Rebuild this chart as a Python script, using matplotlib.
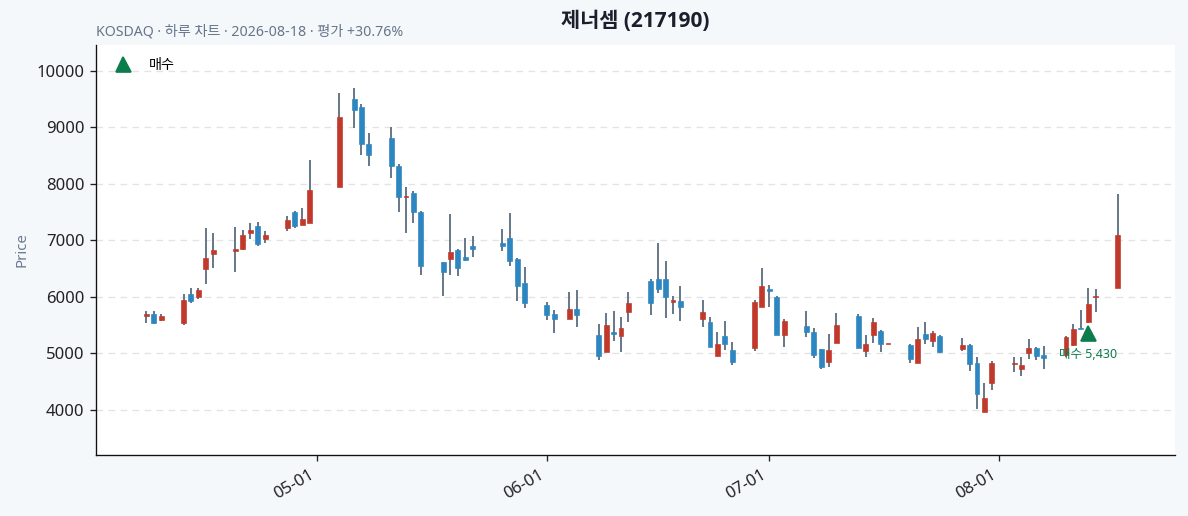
import matplotlib
matplotlib.use('Agg')
import matplotlib.pyplot as plt
import matplotlib.dates as mdates
import pandas as pd
import numpy as np

plt.rcParams['font.family'] = ['Noto Sans', 'Noto Sans CJK KR', 'DejaVu Sans']

# ---- data ----
dates = ['2026-04-08', '2026-04-09', '2026-04-10', '2026-04-13', '2026-04-14', '2026-04-15',
         '2026-04-16', '2026-04-17', '2026-04-20', '2026-04-21', '2026-04-22', '2026-04-23',
         '2026-04-24', '2026-04-27', '2026-04-28', '2026-04-29', '2026-04-30', '2026-05-04',
         '2026-05-06', '2026-05-07', '2026-05-08', '2026-05-11', '2026-05-12', '2026-05-13',
         '2026-05-14', '2026-05-15', '2026-05-18', '2026-05-19', '2026-05-20', '2026-05-21',
         '2026-05-22', '2026-05-26', '2026-05-27', '2026-05-28', '2026-05-29', '2026-06-01',
         '2026-06-02', '2026-06-04', '2026-06-05', '2026-06-08', '2026-06-09', '2026-06-10',
         '2026-06-11', '2026-06-12', '2026-06-15', '2026-06-16', '2026-06-17', '2026-06-18',
         '2026-06-19', '2026-06-22', '2026-06-23', '2026-06-24', '2026-06-25', '2026-06-26',
         '2026-06-29', '2026-06-30', '2026-07-01', '2026-07-02', '2026-07-03', '2026-07-06',
         '2026-07-07', '2026-07-08', '2026-07-09', '2026-07-10', '2026-07-13', '2026-07-14',
         '2026-07-15', '2026-07-16', '2026-07-17', '2026-07-20', '2026-07-21', '2026-07-22',
         '2026-07-23', '2026-07-24', '2026-07-27', '2026-07-28', '2026-07-29', '2026-07-30',
         '2026-07-31', '2026-08-03', '2026-08-04', '2026-08-05', '2026-08-06', '2026-08-07',
         '2026-08-10', '2026-08-11', '2026-08-12', '2026-08-13', '2026-08-14', '2026-08-17']

opens = [5658, 5701, 5587, 5534, 6044, 5996, 6495, 6762, 6815, 6850, 7135, 7254,
         7028, 7224, 7498, 7278, 7302, 7954, 9509, 9367, 8708, 8815, 8322, 7760,
         7842, 7504, 6609, 6673, 6822, 6703, 6904, 6952, 7041, 6667, 6240, 5850,
         5696, 5612, 5784, 5319, 5028, 5372, 5311, 5736, 6280, 6310, 6310, 5913,
         5926, 5612, 5549, 4958, 5301, 5058, 5099, 5814, 6138, 5996, 5319, 5483,
         5377, 5076, 4851, 5188, 5661, 5046, 5330, 5395, 5160, 5142, 4823, 5342,
         5223, 5306, 5076, 5142, 4823, 3967, 4480, 4805, 4729, 5000, 5088, 4970,
         4970, 5147, 5450, 5549, 5990, 6150]

highs = [5747, 5747, 5701, 6057, 6164, 6164, 7213, 7125, 7231, 7183, 7302, 7320,
         7165, 7432, 7521, 7569, 8416, 9616, 9705, 9420, 8904, 9004, 8352, 7954,
         7877, 7521, 6619, 7463, 6840, 7036, 7077, 7196, 7480, 6680, 6530, 5903,
         5761, 6085, 6115, 5513, 5708, 5749, 5637, 6085, 6310, 6947, 6628, 6014,
         6186, 5938, 5637, 5372, 5566, 5195, 5943, 6510, 6209, 6014, 5602, 5743,
         5442, 5082, 5336, 5708, 5696, 5319, 5620, 5412, 5168, 5165, 5460, 5549,
         5390, 5324, 5265, 5159, 4929, 4469, 4864, 4929, 4929, 5248, 5118, 5124,
         5300, 5513, 5766, 6150, 6133, 7814]

lows = [5541, 5511, 5569, 5505, 5897, 5961, 6235, 6520, 6448, 6822, 7018, 6899,
        6947, 7165, 7213, 7272, 7302, 7954, 8993, 8512, 8322, 8103, 7498, 7125,
        7302, 6395, 6009, 6395, 6370, 6644, 6703, 6804, 6555, 5925, 5808, 5589,
        5354, 5602, 5460, 4881, 5028, 5218, 5028, 5549, 5683, 6062, 5620, 5690,
        5566, 5460, 5106, 4958, 5058, 4788, 5046, 5814, 5814, 5319, 5106, 5283,
        4912, 4717, 4763, 5188, 5099, 4940, 5177, 5028, 5158, 4823, 4823, 5159,
        5106, 5000, 5046, 4693, 4020, 3967, 4350, 4668, 4593, 4894, 4882, 4722,
        4940, 5134, 5425, 5531, 5737, 6150]

closes = [5701, 5534, 5665, 5938, 5925, 6116, 6697, 6827, 6840, 7094, 7183, 6940,
          7100, 7361, 7260, 7379, 7895, 9189, 9306, 8708, 8512, 8310, 7765, 7794,
          7498, 6555, 6448, 6786, 6520, 6655, 6850, 6904, 6637, 6199, 5890, 5683,
          5612, 5784, 5683, 4958, 5496, 5347, 5442, 5890, 5885, 6143, 6002, 5943,
          5825, 5731, 5106, 5159, 5159, 4851, 5908, 6191, 6108, 5319, 5566, 5372,
          4975, 4763, 5058, 5501, 5099, 5165, 5555, 5159, 5166, 4904, 5248, 5248,
          5354, 5028, 5142, 4805, 4285, 4204, 4823, 4829, 4788, 5088, 4958, 4912,
          5289, 5430, 5430, 5873, 6010, 7100]

buy_date = '2026-08-13'
buy_price = 5430
buy_label = '매수'
title = '제너셈 (217190)'
subtitle = 'KOSDAQ · 하루 차트 · 2026-08-18 · 평가 +30.76%'
y_ticks = [4000, 5000, 6000, 7000, 8000, 9000, 10000]

# ---- styles ----
UP = '#c0392b'
DOWN = '#2e86c1'
WICK = '#6b7a8a'
GREEN = '#0b7d4c'
FIG_BG = '#f5f8fb'

x = pd.to_datetime(dates)
o = np.array(opens, dtype=float)
h = np.array(highs, dtype=float)
l = np.array(lows, dtype=float)
c = np.array(closes, dtype=float)

fig = plt.figure(figsize=(9.9, 4.3), dpi=120, facecolor=FIG_BG)
ax = fig.add_axes([96 / 1188, 1 - 455 / 516, (1175 - 96) / 1188, (455 - 45) / 516])
ax.set_facecolor('white')

colors = np.where(c >= o, UP, DOWN)
xn = mdates.date2num(x)
ax.vlines(xn, l, h, color=WICK, linewidth=1.2, zorder=2)
body_bottom = np.minimum(o, c)
body_height = np.maximum(np.abs(c - o), 18)
ax.bar(xn, body_height, bottom=body_bottom, width=0.66, color=colors,
       edgecolor=colors, linewidth=0.4, zorder=3)

bx = mdates.date2num(pd.to_datetime(buy_date))
by = buy_price * 0.987
ax.plot([bx], [by], marker='^', linestyle='none', color=GREEN, markersize=9,
        zorder=5, label=buy_label)
ax.annotate(f'{buy_label} {buy_price:,}', (bx, by), xytext=(0, -9),
            textcoords='offset points', ha='center', va='top', fontsize=7.5,
            color=GREEN, zorder=6)

ax.set_xlim(xn[0] - 6.8, xn[-1] + 7.7)
ax.set_ylim(3200, 10460)
ax.set_yticks(y_ticks)
ax.xaxis.set_major_locator(mdates.MonthLocator())
ax.xaxis.set_major_formatter(mdates.DateFormatter('%m-%d'))
for lab in ax.get_xticklabels():
    lab.set_rotation(30)
    lab.set_ha('right')
ax.tick_params(axis='both', labelsize=10, colors='#222222')

ax.grid(axis='y', linestyle=(0, (5, 4)), color='#e3e3e3', linewidth=0.8)
ax.set_axisbelow(True)
for s in ['top', 'right']:
    ax.spines[s].set_visible(False)
ax.spines['left'].set_color('#111111')
ax.spines['bottom'].set_color('#111111')

ax.set_ylabel('Price', fontsize=9, color='#6a7b93')

leg = ax.legend(loc='upper left', frameon=False, fontsize=8.5)

fig.text(635.5 / 1188, 1 - 21 / 516, title, ha='center', va='center',
         fontsize=12.5, fontweight='bold', color='#1a1f2b',
         family=['Open Sans', 'Noto Sans CJK KR', 'DejaVu Sans'])
fig.text(96 / 1188, 1 - 32 / 516, subtitle, ha='left', va='center',
         fontsize=8.5, color='#66758a')

fig.savefig('out.png', dpi=120, facecolor=FIG_BG)
